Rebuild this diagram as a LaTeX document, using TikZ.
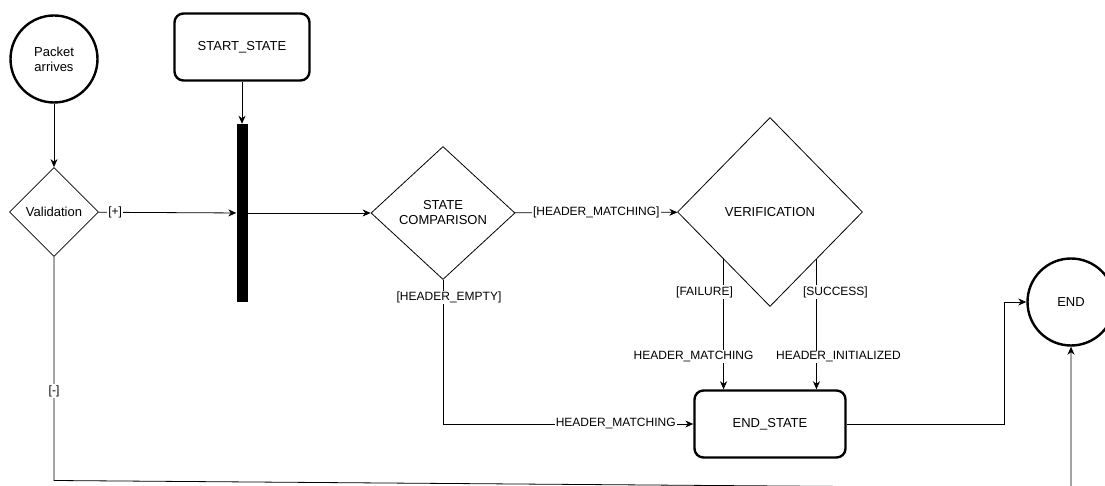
\documentclass[tikz,border=0pt]{standalone}
\usepackage{fontspec}
\setmainfont{Liberation Sans}
\usetikzlibrary{shapes.geometric}
\usetikzlibrary{arrows.meta}
\tikzstyle{event} = [draw, line width=2.4pt, circle, minimum size=87pt, inner sep=0pt, align=center, font=\fontsize{13}{15}\selectfont]
\tikzstyle{state} = [draw, line width=2.4pt, rounded corners=9pt, minimum height=67pt, align=center, font=\fontsize{13}{15}\selectfont]
\tikzstyle{decision} = [draw, diamond, line width=0.8pt, aspect=1, inner sep=0pt, align=center, font=\fontsize{13}{15}\selectfont]
\tikzstyle{fork} = [fill=black, minimum width=11pt, minimum height=178pt, inner sep=0pt]
\tikzstyle{flow} = [draw, line width=0.8pt, -{Stealth[length=8pt, width=7pt, inset=2.5pt]}]
\tikzstyle{guard} = [fill=white, inner sep=1pt, font=\fontsize{12}{14}\selectfont]

\begin{document}
\begin{tikzpicture}[x=1pt, y=-1pt]
	\useasboundingbox (0,0) rectangle (1105,486);
	\clip (0,0) rectangle (1105,486);

	\node[event] (packet) at (54,59) {Packet\\arrives};
	\node[decision, minimum width=89pt, minimum height=89pt] (validation) at (54,212) {Validation};
	\node[state, minimum width=135pt] (startState) at (242,47) {START\_STATE};
	\node[fork] (fork) at (242,213) {};
	\node[decision, minimum width=144pt, minimum height=133pt] (stateCmp) at (443,213) {STATE\\COMPARISON};
	\node[decision, minimum width=185pt, minimum height=189pt] (verification) at (770,212) {VERIFICATION};
	\node[state, minimum width=151pt] (endState) at (770,424) {END\_STATE};
	\node[event] (endEvent) at (1071,302) {END};

	\coordinate (lowLeft) at (54,480.5);
	\coordinate (lowRight) at (1071,488.2);

	\path[flow] (packet) -- (validation);
	\path[flow] (validation) -- node[guard, pos=0.12] {[+]} (fork);
	\path[flow] (startState) -- (fork);
	\path[flow] (fork) -- (stateCmp);
	\path[flow] (stateCmp) -- node[guard] {[HEADER\_MATCHING]} (verification);
	\path[flow] (stateCmp.south) |- node[guard, pos=0.06, xshift=6pt] {[HEADER\_EMPTY]} node[guard, pos=0.845] {HEADER\_MATCHING} (endState.west);
	\path[flow] (verification.south west) -- node[guard, pos=0.25, xshift=-19pt] {[FAILURE]} node[guard, pos=0.75, xshift=-30pt] {HEADER\_MATCHING} (verification.south west |- endState.north);
	\path[flow] (verification.south east) -- node[guard, pos=0.25, xshift=19pt] {[SUCCESS]} node[guard, pos=0.75, xshift=22pt] {HEADER\_INITIALIZED} (verification.south east |- endState.north);
	\path[flow] (endState.east) -- ++(158,0) |- (endEvent.west);
	\path[flow] (validation.south) -- node[guard, pos=0.6] {[-]} (lowLeft) -- (lowRight) -- (endEvent.south);
\end{tikzpicture}
\end{document}
